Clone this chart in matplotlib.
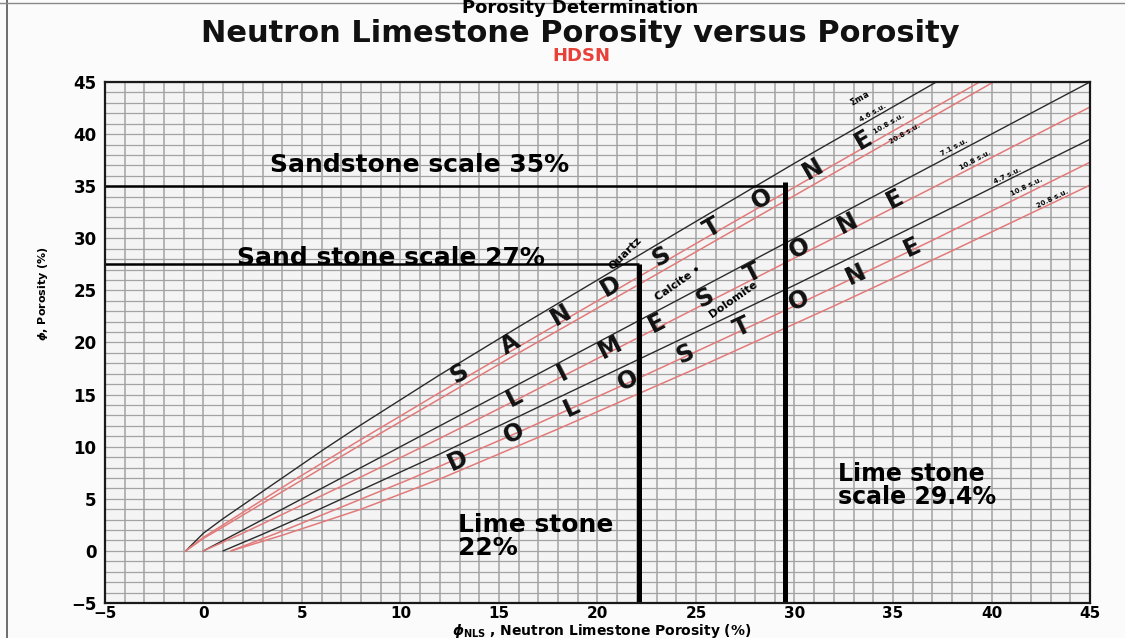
import numpy as np
import matplotlib.pyplot as plt
from matplotlib.lines import Line2D

plt.rcParams['font.family'] = ['DejaVu Sans']
plt.rcParams['font.weight'] = 'bold'

# 砂岩 (石英) 曲线
sand_x = [-0.9, 0, 1, 2, 3, 4, 6, 8, 10, 12, 16, 20, 24, 30, 37.2]
sand_y = [0, 1.7, 3.1, 4.4, 5.7, 7.0, 9.6, 12.1, 14.5, 16.9, 21.5, 26.0, 30.5, 37.2, 45]
sand_r1_x = [-0.9, 0, 1, 2.5, 4.6, 8, 12, 16, 20, 25, 30, 35, 39.4]
sand_r1_y = [0, 1.3, 2.5, 4.3, 6.8, 10.7, 15.2, 19.6, 24.0, 29.5, 34.9, 40.3, 45]
sand_r2_x = [-0.9, 0, 1, 2.5, 5, 8, 12, 16, 20, 25, 30, 35, 40.1]
sand_r2_y = [0, 1.2, 2.3, 4.0, 6.8, 10.2, 14.6, 19.0, 23.3, 28.7, 34.1, 39.5, 45]

# 石灰岩曲线
lime_x = [0, 45]
lime_y = [0, 45]
lime_r_x = [0, 2, 5, 8, 12, 16, 22, 30, 38, 45]
lime_r_y = [0, 1.7, 4.4, 7.1, 10.8, 14.6, 20.4, 28.1, 35.8, 42.6]

# 白云岩曲线
dolo_x = [1, 3, 6, 9, 12, 15, 22, 30, 37, 45]
dolo_y = [0, 1.6, 4.1, 6.7, 9.3, 12.0, 18.3, 25.5, 32.0, 39.5]
dolo_r1_x = [1.4, 4, 7, 10.5, 16, 22, 30, 37, 45]
dolo_r1_y = [0, 1.9, 4.2, 6.9, 11.4, 16.5, 23.5, 29.8, 37.3]
dolo_r2_x = [1.4, 4, 8, 12, 18, 25, 32, 38, 45]
dolo_r2_y = [0, 1.5, 4.0, 6.9, 11.7, 17.5, 23.5, 28.8, 35.1]

# 读数线
vline_x = [22.1, 29.5]
vline_top = [27.5, 35.4]
hline_y = [35, 27.5]
hline_end = [29.5, 22.1]

black = '#2b2b2b'
red = '#e27a7a'

fig = plt.figure(figsize=(11.25, 6.38), dpi=100, facecolor='#fbfbfb')
ax = fig.add_axes([0.0933, 0.0549, 0.8756, 0.8166])
ax.set_facecolor('#f4f4f4')

ax.set_xlim(-5, 45)
ax.set_ylim(-5, 45)
ax.set_xticks(np.arange(-5, 46, 5))
ax.set_yticks(np.arange(-5, 46, 5))
ax.set_xticks(np.arange(-5, 46, 1), minor=True)
ax.set_yticks(np.arange(-5, 46, 1), minor=True)
ax.grid(True, which='both', axis='x', color='#a3a3a3', lw=1.1)
ax.grid(True, which='both', axis='y', color='#a3a3a3', lw=0.9)
ax.set_axisbelow(True)
ax.tick_params(which='both', length=0)
ax.tick_params(axis='x', labelsize=11, pad=2)
ax.tick_params(axis='y', labelsize=12, pad=6)
for lab in ax.get_xticklabels() + ax.get_yticklabels():
    lab.set_fontweight('bold')
for s in ax.spines.values():
    s.set_linewidth(1.6)
    s.set_color('#1a1a1a')

# 曲线
ax.plot(sand_x, sand_y, color=black, lw=1.0)
ax.plot(sand_r1_x, sand_r1_y, color=red, lw=1.1)
ax.plot(sand_r2_x, sand_r2_y, color=red, lw=1.1)
ax.plot(lime_x, lime_y, color=black, lw=1.0)
ax.plot(lime_r_x, lime_r_y, color=red, lw=1.1)
ax.plot(dolo_x, dolo_y, color=black, lw=1.0)
ax.plot(dolo_r1_x, dolo_r1_y, color=red, lw=1.1)
ax.plot(dolo_r2_x, dolo_r2_y, color=red, lw=1.1)

# 读数线
for x, top in zip(vline_x, vline_top):
    ax.plot([x, x], [-5, top], color='black', lw=3.6, solid_capstyle='butt')
for y, end in zip(hline_y, hline_end):
    ax.plot([-5, end], [y, y], color='black', lw=1.8, solid_capstyle='butt')

# 岩性字母
def spell(word, p0, p1, rot):
    xs = np.linspace(p0[0], p1[0], len(word))
    ys = np.linspace(p0[1], p1[1], len(word))
    for ch, x, y in zip(word, xs, ys):
        ax.text(x, y, ch, fontsize=17, fontweight='bold', rotation=rot,
                ha='center', va='center', color='#111111')

spell('SANDSTONE', (13.0, 17.05), (33.5, 39.4), 30)
spell('LIMESTONE', (15.8, 14.75), (35.1, 33.8), 27)
spell('DOLOSTONE', (12.9, 8.7), (36.0, 29.1), 25)

ax.text(21.4, 28.6, 'Quartz', fontsize=8, rotation=45, ha='center', va='center')
ax.text(24.1, 25.7, 'Calcite •', fontsize=8, rotation=35, ha='center', va='center')
ax.text(26.9, 24.1, 'Dolomite', fontsize=8, rotation=35, ha='center', va='center')

ax.text(33.3, 43.5, r'$\Sigma$ma', fontsize=6, rotation=30, ha='center', va='center')
ax.text(34.0, 42.0, '4.6 s.u.', fontsize=5, rotation=30, ha='center', va='center')
ax.text(34.8, 41.0, '10.8 s.u.', fontsize=5, rotation=30, ha='center', va='center')
ax.text(35.6, 40.0, '20.8 s.u.', fontsize=5, rotation=30, ha='center', va='center')
ax.text(38.1, 38.7, '7.1 s.u.', fontsize=5, rotation=28, ha='center', va='center')
ax.text(39.2, 37.5, '10.8 s.u.', fontsize=5, rotation=28, ha='center', va='center')
ax.text(40.8, 36.0, '4.7 s.u.', fontsize=5, rotation=26, ha='center', va='center')
ax.text(41.8, 35.0, '10.8 s.u.', fontsize=5, rotation=26, ha='center', va='center')
ax.text(43.1, 33.8, '20.8 s.u.', fontsize=5, rotation=26, ha='center', va='center')

# 标注
ax.text(3.4, 37.0, 'Sandstone scale 35%', fontsize=18, ha='left', va='center')
ax.text(1.7, 28.1, 'Sand stone scale 27%', fontsize=18, ha='left', va='center')
ax.text(12.9, 1.4, 'Lime stone\n22%', fontsize=18, ha='left', va='center', linespacing=0.95)
ax.text(32.2, 6.3, 'Lime stone\nscale 29.4%', fontsize=17, ha='left', va='center', linespacing=0.95)

# 坐标轴标签
fig.text(0.038, 0.54, r'$\phi$, Porosity (%)', rotation=90, fontsize=8,
         ha='center', va='center')
fig.text(0.535, 0.011, r'$\phi_{\mathbf{NLS}}$ , Neutron Limestone Porosity (%)',
         fontsize=10, ha='center', va='center')

# 标题
fig.text(0.516, 0.988, 'Porosity Determination', fontsize=13, ha='center', va='center')
fig.text(0.516, 0.947, 'Neutron Limestone Porosity versus Porosity', fontsize=22,
         ha='center', va='center', color='#111111')
fig.text(0.517, 0.912, 'HDSN', fontsize=13, ha='center', va='center', color='#e8413a')

# 扫描边框
fig.add_artist(Line2D([0.0065, 0.0065], [0, 1], color='#555555', lw=1.2))
fig.add_artist(Line2D([0, 1], [0.996, 0.996], color='#888888', lw=1.0))

fig.savefig('out.png', dpi=100, facecolor=fig.get_facecolor())
